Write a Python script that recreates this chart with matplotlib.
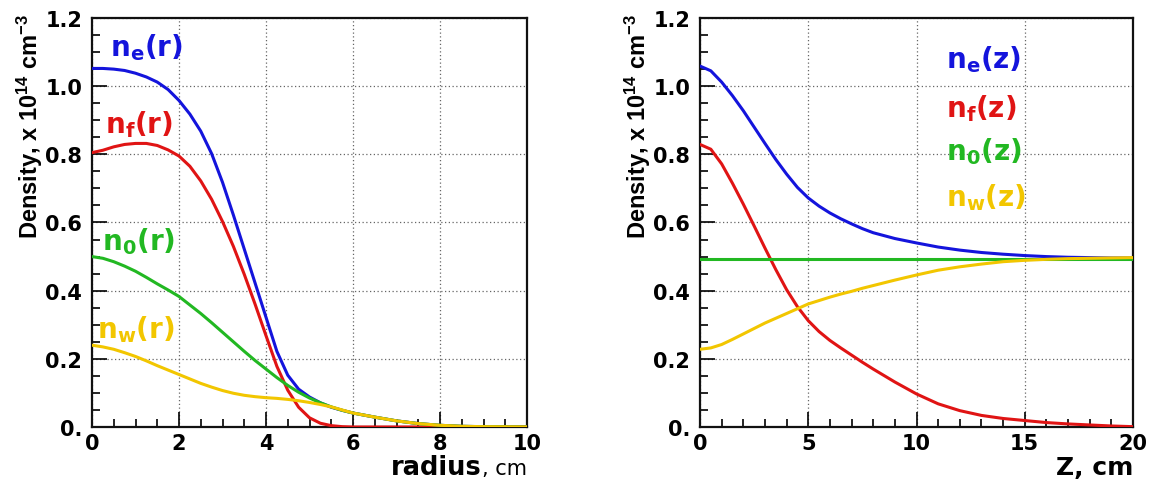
import matplotlib
matplotlib.use("Agg")
import matplotlib.pyplot as plt
from matplotlib.ticker import MultipleLocator, FuncFormatter
from matplotlib.font_manager import FontProperties

plt.rcParams['mathtext.fontset'] = 'custom'
plt.rcParams['mathtext.rm'] = 'Liberation Sans:bold'
plt.rcParams['mathtext.bf'] = 'Liberation Sans:bold'
plt.rcParams['mathtext.it'] = 'Liberation Sans:bold'

# ---------------- data: radial profiles ----------------
r = [0, 0.25, 0.5, 0.75, 1, 1.25, 1.5, 1.75, 2, 2.25, 2.5, 2.75, 3, 3.25, 3.5, 3.75,
     4, 4.25, 4.5, 4.75, 5, 5.25, 5.5, 5.75, 6, 6.5, 7, 7.5, 8, 8.5, 9, 10]
ne_r = [1.052, 1.052, 1.050, 1.046, 1.038, 1.027, 1.012, 0.990, 0.958, 0.918, 0.868, 0.802,
        0.718, 0.622, 0.522, 0.422, 0.322, 0.222, 0.152, 0.111, 0.088, 0.071, 0.058, 0.049,
        0.041, 0.029, 0.018, 0.010, 0.005, 0.002, 0.001, 0.000]
nf_r = [0.805, 0.812, 0.822, 0.829, 0.832, 0.832, 0.826, 0.813, 0.795, 0.765, 0.722, 0.668,
        0.603, 0.530, 0.448, 0.360, 0.268, 0.178, 0.108, 0.058, 0.027, 0.011, 0.004, 0.001,
        0.000, 0.000, 0.000, 0.000, 0.000, 0.000, 0.000, 0.000]
n0_r = [0.500, 0.495, 0.485, 0.472, 0.457, 0.439, 0.420, 0.402, 0.383, 0.358, 0.333, 0.306,
        0.278, 0.250, 0.222, 0.195, 0.170, 0.145, 0.122, 0.102, 0.085, 0.071, 0.059, 0.049,
        0.041, 0.029, 0.018, 0.010, 0.005, 0.002, 0.001, 0.000]
nw_r = [0.240, 0.235, 0.228, 0.218, 0.207, 0.194, 0.180, 0.167, 0.154, 0.141, 0.128, 0.117,
        0.107, 0.099, 0.093, 0.089, 0.086, 0.084, 0.081, 0.077, 0.072, 0.066, 0.059, 0.050,
        0.041, 0.029, 0.018, 0.010, 0.005, 0.002, 0.001, 0.000]

# ---------------- data: axial profiles ----------------
z = [0, 0.5, 1, 1.5, 2, 2.5, 3, 3.5, 4, 4.5, 5, 5.5, 6, 6.5, 7, 7.5, 8, 9, 10, 11, 12,
     13, 14, 15, 16, 17, 18, 19, 20]
ne_z = [1.059, 1.045, 1.012, 0.972, 0.928, 0.880, 0.832, 0.785, 0.742, 0.703, 0.672, 0.648,
        0.628, 0.611, 0.596, 0.582, 0.570, 0.553, 0.540, 0.528, 0.519, 0.512, 0.507, 0.503,
        0.500, 0.498, 0.497, 0.496, 0.496]
nf_z = [0.829, 0.815, 0.772, 0.715, 0.654, 0.590, 0.525, 0.462, 0.403, 0.353, 0.312, 0.280,
        0.254, 0.232, 0.211, 0.190, 0.170, 0.132, 0.097, 0.068, 0.048, 0.034, 0.025, 0.019,
        0.013, 0.009, 0.006, 0.003, 0.001]
n0_z = [0.492, 0.492, 0.492, 0.492, 0.492, 0.492, 0.492, 0.492, 0.492, 0.492, 0.492, 0.492,
        0.492, 0.492, 0.492, 0.492, 0.492, 0.492, 0.492, 0.492, 0.492, 0.492, 0.492, 0.492,
        0.492, 0.492, 0.492, 0.492, 0.492]
nw_z = [0.228, 0.232, 0.242, 0.257, 0.273, 0.289, 0.305, 0.319, 0.333, 0.347, 0.361, 0.371,
        0.381, 0.390, 0.398, 0.407, 0.415, 0.431, 0.446, 0.460, 0.470, 0.478, 0.485, 0.489,
        0.492, 0.494, 0.495, 0.496, 0.497]

labels_r = ["e", "f", "0", "w"]
labels_z = ["e", "f", "0", "w"]
colors = ["#1414dc", "#e01414", "#22b822", "#f2c600"]

fig = plt.figure(figsize=(11.57, 4.81), dpi=100)
fig.patch.set_facecolor("white")

W, H = 1157.0, 481.0
bottom = 1 - 428 / H
height = (428 - 19) / H
ax1 = fig.add_axes([92 / W, bottom, 435 / W, height])
ax2 = fig.add_axes([700 / W, bottom, 433 / W, height])

tick_fp = FontProperties(family="DejaVu Sans", weight="bold", size=15)


def yfmt(v, pos):
    if abs(v) < 1e-9:
        return "0."
    return "%.1f" % v


def style(ax, xmax, xmaj, xmin):
    ax.set_xlim(0, xmax)
    ax.set_ylim(0, 1.2)
    ax.xaxis.set_major_locator(MultipleLocator(xmaj))
    ax.xaxis.set_minor_locator(MultipleLocator(xmin))
    ax.yaxis.set_major_locator(MultipleLocator(0.2))
    ax.yaxis.set_minor_locator(MultipleLocator(0.05))
    ax.yaxis.set_major_formatter(FuncFormatter(yfmt))
    ax.xaxis.set_major_formatter(FuncFormatter(lambda v, p: "%d" % round(v)))
    ax.tick_params(which="both", direction="in", top=False, right=False, width=1.2)
    ax.tick_params(which="major", length=11)
    ax.tick_params(which="minor", length=6)
    ax.tick_params(axis="y", pad=7)
    ax.tick_params(axis="x", pad=4)
    for lab in ax.get_xticklabels() + ax.get_yticklabels():
        lab.set_fontproperties(tick_fp)
    ax.grid(True, which="major", linestyle=(0, (1, 2)), color="#666666", linewidth=0.9)
    for s in ax.spines.values():
        s.set_linewidth(1.6)
        s.set_color("#111111")
    ax.set_ylabel(r"Density, x 10$^{14}$ cm$^{-3}$", family="Liberation Sans",
                  weight="bold", size=17, loc="top")
    ax.yaxis.set_label_coords(-0.108, 1.012)


style(ax1, 10, 2, 0.5)
style(ax2, 20, 5, 1)

for vals, c in zip([ne_r, nf_r, n0_r, nw_r], colors):
    ax1.plot(r, vals, color=c, lw=2.2, solid_capstyle="round", solid_joinstyle="round", zorder=3)
for vals, c in zip([ne_z, nf_z, n0_z, nw_z], colors):
    ax2.plot(z, vals, color=c, lw=2.2, solid_capstyle="round", solid_joinstyle="round", zorder=3)

# curve labels
pos_r = [(0.42, 1.115), (0.30, 0.89), (0.22, 0.548), (0.12, 0.29)]
pos_z = [(11.35, 1.082), (11.35, 0.938), (11.35, 0.812), (11.35, 0.676)]
for sub, c, (x, y) in zip(labels_r, colors, pos_r):
    ax1.text(x, y, r"$\mathbf{n}_{\mathbf{%s}}\mathbf{(r)}$" % sub, color=c, fontsize=20,
             ha="left", va="center", math_fontfamily="dejavusans", zorder=4)
for sub, c, (x, y) in zip(labels_z, colors, pos_z):
    ax2.text(x, y, r"$\mathbf{n}_{\mathbf{%s}}\mathbf{(z)}$" % sub, color=c, fontsize=20,
             ha="left", va="center", math_fontfamily="dejavusans", zorder=4)

# x axis titles (right aligned, ROOT style)
fig.canvas.draw()
renderer = fig.canvas.get_renderer()
ybase = 1 - 475 / H

t_cm = fig.text((92 + 435) / W, ybase, ", cm", family="DejaVu Sans", size=15,
                ha="right", va="baseline")
wcm = t_cm.get_window_extent(renderer).width
fig.text((92 + 435 - wcm) / W, ybase, "radius", family="DejaVu Sans", weight="bold",
         size=18.5, ha="right", va="baseline")

fig.text((700 + 433) / W, ybase, "Z, cm", family="DejaVu Sans", weight="bold", size=18,
         ha="right", va="baseline")

fig.savefig("out.png", dpi=100, facecolor="white")
